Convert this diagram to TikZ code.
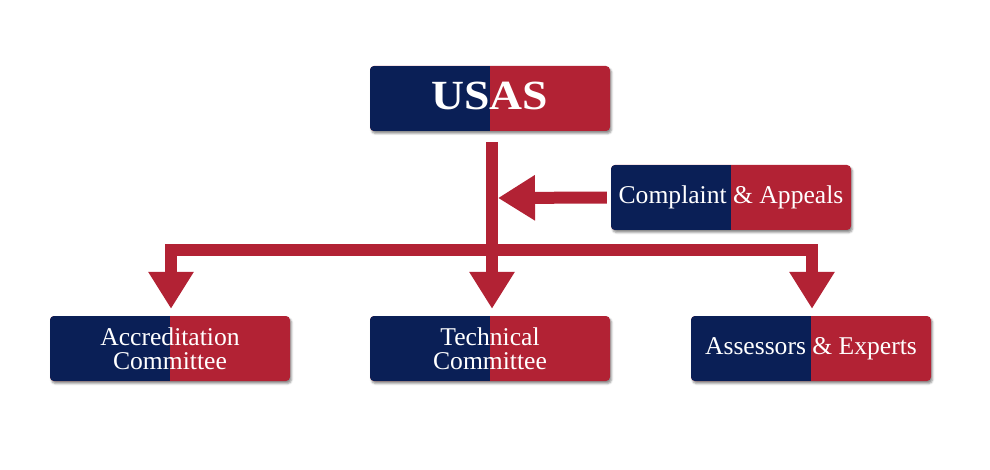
\documentclass[tikz,border=0pt]{standalone}
\usepackage{fontspec}
\setmainfont{Liberation Serif}
\usepackage{graphicx}
\usepackage{tikz}
\usetikzlibrary{arrows.meta,%
                shadows.blur}

\definecolor{usblue}{RGB}{10,31,86}
\definecolor{usred}{RGB}{178,34,52}

\tikzset{
  orgbox/.style={rectangle, rounded corners=4pt, fill=usred,
    minimum width=240pt, minimum height=65pt, inner sep=0pt,
    text=white, align=center,
    font=\fontsize{25.6}{24}\selectfont,
    blur shadow={shadow xshift=1.5pt, shadow yshift=-2.5pt,
      shadow blur radius=2pt, shadow opacity=45},
    path picture={\fill[usblue, sharp corners]
      (path picture bounding box.south west)
      rectangle (path picture bounding box.north);}},
  link/.style={draw=usred, line width=12pt, line join=miter,
    -{Triangle[width=43pt,length=37pt]}}
}

\begin{document}
\begin{tikzpicture}[x=1pt,y=-1pt]
\useasboundingbox (0,0) rectangle (990,470);

\node[orgbox, text depth=5.5pt, font=\fontsize{41.5}{41.5}\selectfont\bfseries]
  (usas) at (490,98.5) {\scalebox{1.1}[1]{USAS}};
\node[orgbox] (appeal) at (731,197.5) {Complaint \& Appeals};
\node[orgbox] (accred) at (170,348.5) {Accreditation\\Committee};
\node[orgbox] (tech)   at (490,348.5) {Technical\\Committee};
\node[orgbox] (assess) at (811,348.5) {Assessors \& Experts};

\coordinate (top)   at (492,142);
\coordinate (split) at (492,250);
\coordinate (hit)   at (498,198);

\draw[link, shorten >=7pt] (top) -- (split) -- (tech.north -| split);
\draw[link, shorten >=7pt] (split) -| ([xshift=1pt]accred.north);
\draw[link, shorten >=7pt] (split) -| ([xshift=1pt]assess.north);
\draw[link, shorten <=4pt] (appeal.west) -- (hit);
\end{tikzpicture}
\end{document}
